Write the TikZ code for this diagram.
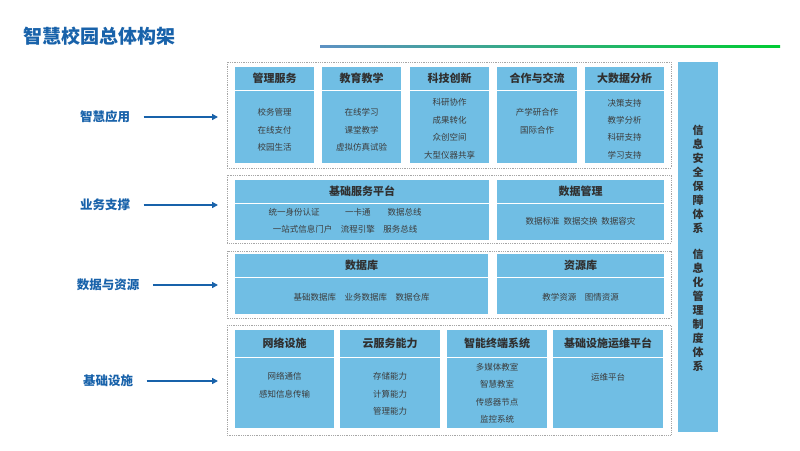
\documentclass[tikz,border=0pt]{standalone}
\usepackage{fontspec}
\setmainfont{Noto Sans CJK SC}
\usetikzlibrary{arrows.meta}
\definecolor{boxblue}{RGB}{112,190,228}
\definecolor{titleblue}{RGB}{24,98,170}
\definecolor{txt}{RGB}{60,60,60}
\tikzset{
  frame/.style={draw=gray!70, densely dotted, line width=0.8pt},
  cell/.style={fill=boxblue, draw=none},
  sep/.style={draw=white, line width=0.8pt},
  head/.style={font=\fontsize{11}{13}\selectfont\bfseries, text=txt!80!black},
  item/.style={font=\fontsize{8.5}{17.5}\selectfont, text=txt, align=center},
  lab/.style={font=\fontsize{12.5}{14}\selectfont\bfseries, text=titleblue},
  arr/.style={-{Triangle[length=6pt,width=6pt]}, draw=titleblue, line width=1.6pt}
}
\begin{document}
\begin{tikzpicture}[x=1pt,y=-1pt]
\useasboundingbox[fill=white] (0,0) rectangle (800,450);
\node[anchor=west, font=\fontsize{19}{21}\selectfont\bfseries, text=titleblue] (title) at (20,36) {智慧校园总体构架};
\shade[left color=titleblue!70, right color=green!60!teal] (320,45) rectangle (780,47);
% frames
\draw[frame] (227,62) rectangle (671,168);
\draw[frame] (227,175) rectangle (671,243);
\draw[frame] (227,251) rectangle (671,318);
\draw[frame] (227,325) rectangle (671,435);
% right bar
\fill[boxblue] (678,62) rectangle (718,432);
\node[font=\fontsize{11}{14}\selectfont\bfseries, text=txt!80!black, align=center] (sec) at (698,179) {信\\息\\安\\全\\保\\障\\体\\系};
\node[font=\fontsize{11}{14}\selectfont\bfseries, text=txt!80!black, align=center] (mgmt) at (698,310) {信\\息\\化\\管\\理\\制\\度\\体\\系};
% macro for cell
\newcommand{\mycell}[7]{% name x1 x2 y1 yh y2 header
  \fill[boxblue] (#2,#4) rectangle (#3,#6);
  \draw[sep] (#2,#5) -- (#3,#5);
  \node[head] (#1) at ({(#2+#3)/2},{(#4+#5)/2}) {#7};
}
% row 1
\mycell{a1}{235}{314}{67}{90}{163}{管理服务}
\mycell{a2}{322}{401}{67}{90}{163}{教育教学}
\mycell{a3}{410}{489}{67}{90}{163}{科技创新}
\mycell{a4}{497}{577}{67}{90}{163}{合作与交流}
\mycell{a5}{585}{664}{67}{90}{163}{大数据分析}
\node[item] (a1t) at (274.5,130) {校务管理\\在线支付\\校园生活};
\node[item] (a2t) at (361.5,130) {在线学习\\课堂教学\\虚拟仿真试验};
\node[item] (a3t) at (449.5,129) {科研协作\\成果转化\\众创空间\\大型仪器共享};
\node[item] (a4t) at (537,121) {产学研合作\\国际合作};
\node[item] (a5t) at (624.5,129) {决策支持\\教学分析\\科研支持\\学习支持};
% row 2
\mycell{b1}{235}{489}{180}{203}{240}{基础服务平台}
\mycell{b2}{497}{664}{180}{203}{240}{数据管理}
\node[item, anchor=center] (b1t) at (345,221) {统一身份认证\qquad\quad 一卡通\qquad 数据总线\\一站式信息门户\quad 流程引擎\quad 服务总线};
\node[item] (b2t) at (580.5,221) {数据标准\ \ 数据交换\ \ 数据容灾};
% row 3
\mycell{c1}{235}{488}{254}{277}{314}{数据库}
\mycell{c2}{497}{664}{254}{277}{314}{资源库}
\node[item] (c1t) at (361.5,297) {基础数据库\quad 业务数据库\quad 数据仓库};
\node[item] (c2t) at (580.5,297) {教学资源\quad 图情资源};
% row 4
\mycell{d1}{235}{334}{330}{357}{428}{网络设施}
\mycell{d2}{340}{440}{330}{357}{428}{云服务能力}
\mycell{d3}{447}{547}{330}{357}{428}{智能终端系统}
\mycell{d4}{553}{663}{330}{357}{428}{基础设施运维平台}
\node[item] (d1t) at (284.5,385) {网络通信\\感知信息传输};
\node[item] (d2t) at (390,394) {存储能力\\计算能力\\管理能力};
\node[item] (d3t) at (497,393) {多媒体教室\\智慧教室\\传感器节点\\监控系统};
\node[item] (d4t) at (608,377) {运维平台};
% left labels
\node[lab] (l1) at (105,117) {智慧应用};
\node[lab] (l2) at (105,205) {业务支撑};
\node[lab] (l3) at (108,285) {数据与资源};
\node[lab] (l4) at (108,381) {基础设施};
\coordinate (e1) at (218,117); \coordinate (e2) at (218,205);
\coordinate (e3) at (218,285); \coordinate (e4) at (218,381);
\draw[arr] ([xshift=10pt]l1.east) -- (e1);
\draw[arr] ([xshift=10pt]l2.east) -- (e2);
\draw[arr] ([xshift=10pt]l3.east) -- (e3);
\draw[arr] ([xshift=10pt]l4.east) -- (e4);
\end{tikzpicture}
\end{document}
